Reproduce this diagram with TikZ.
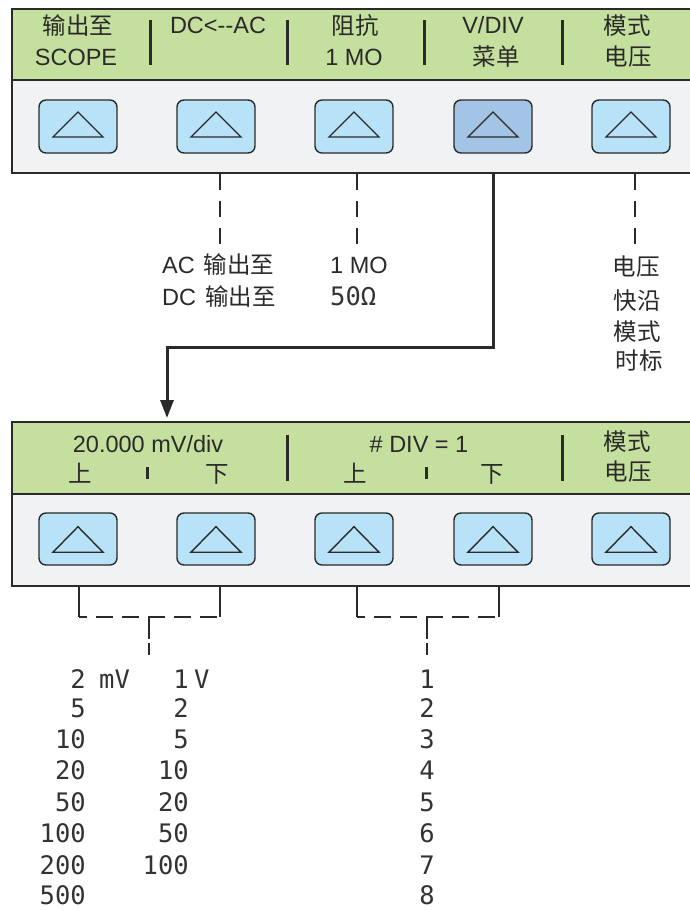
\documentclass[tikz,border=0pt]{standalone}
\usepackage{fontspec}
\setmainfont{Liberation Sans}
\newfontfamily\cjk{Noto Sans CJK SC}
\newfontfamily\dm{DejaVu Sans Mono}
\usetikzlibrary{arrows.meta}
\definecolor{hdr}{HTML}{C5DF9E}
\definecolor{bodyc}{HTML}{F1F2F4}
\definecolor{btnc}{HTML}{B8E2F7}
\definecolor{btnp}{HTML}{A3C4E5}
\definecolor{ink}{HTML}{2A2A2A}
\tikzset{
  panelhdr/.style={draw=ink, line width=1.8pt, fill=hdr, anchor=north west, inner sep=0pt, minimum width=681pt},
  panelbody/.style={draw=ink, line width=1.8pt, fill=bodyc, anchor=north west, inner sep=0pt, minimum width=681pt},
  btn/.style={draw=ink, line width=1.4pt, fill=btnc, rounded corners=7pt, minimum width=78pt, minimum height=53pt, inner sep=0pt},
  tri/.style={draw=ink, line width=1.4pt, line join=miter},
  sepbar/.style={draw=ink, line width=3pt},
  lbl/.style={anchor=base, inner sep=0pt, text=ink, font=\fontsize{23.5}{28}\selectfont},
  dmtxt/.style={inner sep=0pt, text=black!80, font=\dm\fontsize{25.5}{30}\selectfont},
  dashv/.style={draw=ink, line width=1.3pt, dash pattern=on 16pt off 11pt},
  dashh/.style={draw=ink, line width=1.3pt, dash pattern=on 17pt off 9pt},
  stub/.style={draw=ink, line width=1.3pt, dash pattern=on 22pt off 4pt on 14pt off 4pt},
  leg/.style={draw=ink, line width=1.3pt},
  mainarrow/.style={draw=ink, line width=3pt, -{Triangle[width=13pt,length=18pt]}}
}
\begin{document}
\begin{tikzpicture}[x=1pt,y=-1pt]
\useasboundingbox (0,0) rectangle (690,911);
\fill[white] (0,0) rectangle (690,911);

% ---------- top panel ----------
\node[panelbody, minimum height=93pt] (B1) at (11,79) {};
\node[panelhdr, minimum height=71pt] (H1) at (11,8) {};

\foreach \n/\x in {b1/78, b2/216, b3/354, b5/631}{
  \node[btn] (\n) at (\x,126.5) {};
  \draw[tri] (\n.center) ++(0,-14.5) -- ++(25,25) -- ++(-50,0) -- cycle;
}
\node[btn, fill=btnp] (b4) at (493,126.5) {};
\draw[tri] (b4.center) ++(0,-14.5) -- ++(25,25) -- ++(-50,0) -- cycle;

\foreach \x in {150,287,424,562}{ \draw[sepbar] (\x,20) -- (\x,65); }

\node[lbl] (t1a) at (78,34) {\cjk 输出至};
\node[lbl] (t1b) at (76,65) {SCOPE};
\node[lbl] (t2a) at (218,33) {DC<{-}{-}AC};
\node[lbl] (t3a) at (355,34) {\cjk 阻抗};
\node[lbl] (t3b) at (354,65) {1 MO};
\node[lbl] (t4a) at (493,33) {V/DIV};
\node[lbl] (t4b) at (496,65) {\cjk 菜单};
\node[lbl] (t5a) at (627,34) {\cjk 模式};
\node[lbl] (t5b) at (628,65) {\cjk 电压};

% ---------- connectors from top panel ----------
\coordinate (e2) at (b2 |- B1.south);
\coordinate (e3) at (b3 |- B1.south);
\coordinate (e5) at (b5 |- B1.south);
\draw[dashv] ([xshift=4pt]e2) -- ++(0,72);
\draw[dashv] ([xshift=3pt]e3) -- ++(0,72);
\draw[dashv] ([xshift=4pt]e5) -- ++(0,72);

\node[lbl, anchor=base west] (m1) at (162,273) {AC\hspace{9pt}{\cjk 输出至}};
\node[lbl, anchor=base west] (m2) at (162,305) {DC\hspace{9pt}{\cjk 输出至}};
\node[lbl, anchor=base west] (m3) at (330,273) {1 MO};
\node[dmtxt, anchor=base west] (m4) at (330,305) {50Ω};

\node[lbl] (r1) at (636,275) {\cjk 电压};
\node[lbl] (r2) at (637,309) {\cjk 快沿};
\node[lbl] (r3) at (637,340) {\cjk 模式};
\node[lbl] (r4) at (639,369) {\cjk 时标};

% ---------- bottom panel ----------
\node[panelbody, minimum height=92pt] (B2) at (11,493) {};
\node[panelhdr, minimum height=72pt] (H2) at (11,421) {};

\foreach \n/\x in {c1/78, c2/216, c3/354, c4/493, c5/631}{
  \node[btn, minimum height=52pt] (\n) at (\x,539) {};
  \draw[tri] (\n.center) ++(0,-12.3) -- ++(25,25.5) -- ++(-50,0) -- cycle;
}

\draw[sepbar] (287,435) -- (287,481);
\draw[sepbar] (562,435) -- (562,481);
\draw[sepbar] (147,467) -- (147,479);
\draw[sepbar] (426,467) -- (426,479);

\node[lbl] (u1) at (148,452) {20.000 mV/div};
\node[lbl] (u2) at (80,482) {\cjk 上};
\node[lbl] (u3) at (217,482) {\cjk 下};
\node[lbl] (u4) at (419,452) {\# DIV = 1};
\node[lbl] (u5) at (355,482) {\cjk 上};
\node[lbl] (u6) at (492,482) {\cjk 下};
\node[lbl] (u7) at (627,450) {\cjk 模式};
\node[lbl] (u8) at (628,480) {\cjk 电压};

% ---------- main arrow ----------
\coordinate (turn) at (167,347);
\draw[mainarrow, shorten >=3pt] (b4 |- B1.south) |- (turn) -- (turn |- H2.north);

% ---------- bottom brackets ----------
\coordinate (l1) at ([xshift=1pt]c1 |- B2.south);
\coordinate (l2) at ([xshift=4pt]c2 |- B2.south);
\coordinate (l3) at ([xshift=3pt]c3 |- B2.south);
\coordinate (l4) at ([xshift=6pt]c4 |- B2.south);
\coordinate (j1) at (149,617);
\coordinate (j2) at (427,617);
\draw[leg] (l1) -- (l1 |- j1);
\draw[leg] (l2) -- (l2 |- j1);
\draw[dashh, dash phase=9pt] (l1 |- j1) -- (l2 |- j1);
\draw[stub] (j1) -- ++(0,38);
\draw[leg] (l3) -- (l3 |- j2);
\draw[leg] (l4) -- (l4 |- j2);
\draw[dashh, dash phase=9pt] (l3 |- j2) -- (l4 |- j2);
\draw[stub] (j2) -- ++(0,38);

% ---------- value lists ----------
\foreach \v/\y in {2/688, 5/717, 10/748, 20/779, 50/811, 100/842, 200/874, 500/904}{
  \node[dmtxt, anchor=base east] at (86,\y) {\v};
}
\node[dmtxt, anchor=base west] (mv) at (99,688) {mV};
\foreach \v/\y in {1/688, 2/717, 5/748, 10/779, 20/811, 50/842, 100/874}{
  \node[dmtxt, anchor=base east] at (189,\y) {\v};
}
\node[dmtxt, anchor=base west] (vv) at (194,688) {V};
\foreach \v/\y in {1/688, 2/717, 3/748, 4/779, 5/811, 6/842, 7/874, 8/904}{
  \node[dmtxt, anchor=base] at (427,\y) {\v};
}
\end{tikzpicture}
\end{document}
